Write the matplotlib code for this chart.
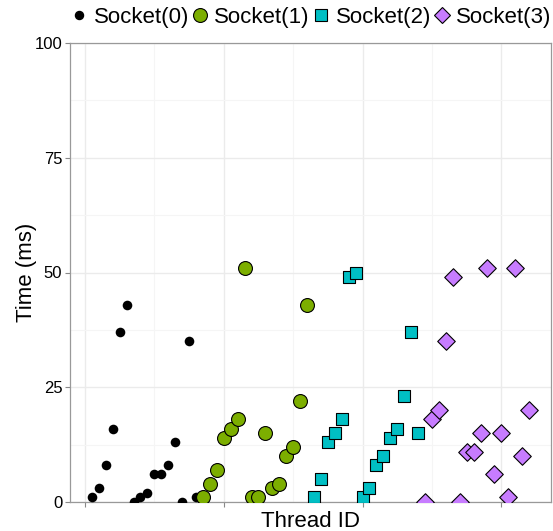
import numpy as np
import matplotlib.pyplot as plt
from matplotlib.lines import Line2D

plt.rcParams['font.family'] = ['Liberation Sans', 'DejaVu Sans']

# thread ids per socket and measured time (ms)
threads_s0 = list(range(1, 17))
threads_s1 = list(range(17, 33))
threads_s2 = list(range(33, 49))
threads_s3 = list(range(49, 65))

time_s0 = [1, 3, 8, 16, 37, 43, 0, 1, 2, 6, 6, 8, 13, 0, 35, 1]
time_s1 = [1, 4, 7, 14, 16, 18, 51, 1, 1, 15, 3, 4, 10, 12, 22, 43]
time_s2 = [1, 5, 13, 15, 18, 49, 50, 1, 3, 8, 10, 14, 16, 23, 37, 15]
time_s3 = [0, 18, 20, 35, 49, 0, 11, 11, 15, 51, 6, 15, 1, 51, 10, 20]

labels = ['Socket(0)', 'Socket(1)', 'Socket(2)', 'Socket(3)']

fig = plt.figure(figsize=(5.53, 5.31), dpi=100)
ax = fig.add_axes([70/553, 29/531, 481/553, 459/531])

ax.scatter(threads_s0, time_s0, s=48, c='black', marker='o', linewidths=0, zorder=3)
ax.scatter(threads_s1, time_s1, s=100, c='#7CAE00', marker='o', edgecolors='black', linewidths=0.8, zorder=3)
ax.scatter(threads_s2, time_s2, s=80, c='#00BFC4', marker='s', edgecolors='black', linewidths=0.8, zorder=3)
ax.scatter(threads_s3, time_s3, s=80, c='#C77CFF', marker='D', edgecolors='black', linewidths=0.8, zorder=3)

ax.set_xlim(-2.15, 67.15)
ax.set_ylim(0, 100)
ax.set_xticks([0, 20, 40, 60])
ax.set_xticklabels([])
ax.set_xticks([10, 30, 50], minor=True)
ax.set_yticks([0, 25, 50, 75, 100])
ax.set_yticks([12.5, 37.5, 62.5, 87.5], minor=True)
ax.grid(True, which='major', color='#EBEBEB', linewidth=1.0, zorder=0)
ax.grid(True, which='minor', color='#F5F5F5', linewidth=0.8, zorder=0)
ax.set_axisbelow(True)
ax.tick_params(which='major', length=3.5, width=0.8, color='#888888', labelsize=12, pad=2)
ax.tick_params(which='minor', length=0)
for sp in ax.spines.values():
    sp.set_color('#999999')
    sp.set_linewidth(0.9)

ax.set_xlabel('Thread ID', fontsize=16, labelpad=1)
ax.set_ylabel('Time (ms)', fontsize=16, labelpad=-2)

handles = [
    Line2D([], [], ls='', marker='o', ms=5.8, mfc='black', mec='black'),
    Line2D([], [], ls='', marker='o', ms=10, mfc='#7CAE00', mec='black', mew=0.8),
    Line2D([], [], ls='', marker='s', ms=8.6, mfc='#00BFC4', mec='black', mew=0.8),
    Line2D([], [], ls='', marker='D', ms=8, mfc='#C77CFF', mec='black', mew=0.8),
]
fig.legend(handles, labels, loc='center', bbox_to_anchor=(311/553, 1 - 17/531), ncol=4,
           frameon=False, fontsize=16, handlelength=0.8, handletextpad=0.25,
           columnspacing=0.1, borderpad=0)

fig.savefig('out.png', dpi=100)
